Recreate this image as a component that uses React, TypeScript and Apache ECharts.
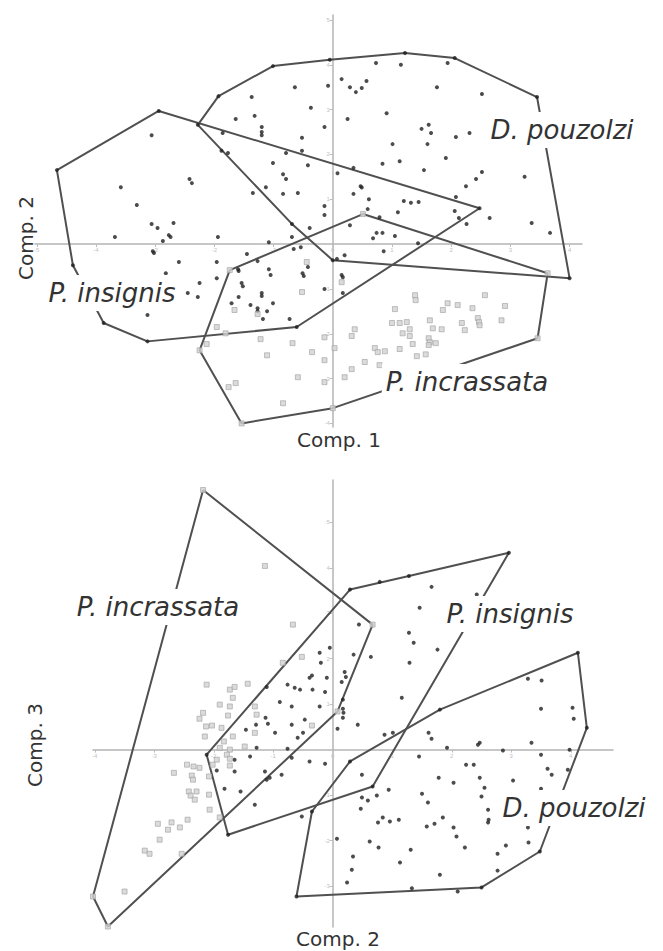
import React, { useEffect, useRef } from "react";
import * as echarts from "echarts";

type P = [number, number];

// ---------- tick values ----------
const topTicksX = [-5, -4, -3, -2, -1, 0, 1, 2, 3, 4];
const topTicksY = [-4, -3, -2, -1, 1, 2, 3, 4, 5];
const botTicksX = [-4, -3, -2, -1, 0, 1, 2, 3, 4];
const botTicksY = [-3, -2, -1, 1, 2, 3, 4, 5];

const speciesNames = ["D. pouzolzi", "P. insignis", "P. incrassata"];
const axisNames = ["Comp. 1", "Comp. 2", "Comp. 3"];

// ---------- top panel: Comp. 1 (x) vs Comp. 2 (y) ----------
const topHullDpouzolzi: P[] = [
  [-2.28, 2.66], [-1.93, 3.3], [-1.01, 3.97], [-0.05, 4.11], [1.22, 4.26], [2.06, 4.15],
  [3.45, 3.28], [4.0, -0.76], [0.0, -0.36], [-0.69, 0.45],
];
const topHullPinsignis: P[] = [
  [-4.66, 1.65], [-2.94, 2.97], [2.48, 0.8], [-0.61, -1.85], [-3.13, -2.17], [-3.87, -1.76], [-4.39, -0.47],
];
const topHullPincrassata: P[] = [
  [-1.74, -0.58], [0.51, 0.67], [3.63, -0.65], [3.46, -2.1], [0.0, -3.66], [-1.54, -4.0], [-2.25, -2.37],
];

const topDpouzolzi: P[] = [
  [-0.64, 3.5], [-0.08, 3.53], [-1.37, 3.28], [-0.37, 3.04], [-1.64, 2.79], [-1.32, 2.86], [-1.2, 2.61],
  [-1.2, 2.5], [-1.2, 2.43], [-0.14, 2.61], [-0.52, 2.37], [-1.86, 2.48], [-1.77, 2.03], [-0.79, 2.03],
  [-0.52, 2.08], [-1.01, 1.81], [-0.42, 1.76], [-0.84, 1.56], [-0.79, 1.45], [-1.13, 1.27], [-0.84, 1.12],
  [-0.59, 1.14], [-0.14, 0.85], [-0.14, 0.65], [-0.39, 0.36],
  [0.73, 4.04], [1.15, 4.0], [1.94, 4.04], [0.15, 3.68], [0.29, 3.5], [0.39, 3.39], [0.49, 3.48],
  [0.57, 3.64], [1.76, 3.5], [2.52, 3.35], [0.25, 2.79], [0.91, 2.92], [1.5, 2.57], [1.62, 2.66],
  [1.66, 2.48], [2.08, 2.39], [2.31, 2.48], [1.01, 2.23], [1.6, 2.23], [1.91, 1.92], [0.84, 1.79],
  [1.13, 1.85], [1.54, 1.65], [0.08, 1.58], [0.35, 1.7], [2.52, 1.61], [2.42, 1.45], [2.25, 1.29],
  [3.24, 1.5], [0.47, 1.29], [0.49, 1.26], [0.35, 1.12], [0.61, 1.0], [1.2, 0.96], [1.32, 0.92],
  [1.45, 0.94], [2.08, 1.05], [0.59, 0.78], [1.1, 0.71], [0.79, 0.6], [2.06, 0.74], [2.13, 0.58],
  [2.26, 0.45], [2.65, 0.58], [3.36, 0.47], [0.29, 0.42],
  [3.67, 0.25], [0.68, 0.13], [0.74, 0.25], [0.84, 0.25], [1.05, 0.18], [1.44, 0.02], [0.86, -0.16],
  [0.2, -0.25], [0.07, -0.33],
];
const topPinsignis: P[] = [
  [-3.06, 2.43], [-1.88, 2.08], [-2.42, 1.45], [-2.38, 1.36], [-3.58, 1.27], [-1.35, 1.14], [-3.31, 0.87],
  [-3.06, 0.45], [-2.96, 0.36], [-2.69, 0.47], [0.15, -0.69], [0.17, -0.74], [0.17, -1.09],
  [-2.77, 0.2], [-2.74, 0.16], [-2.87, 0.07], [-3.68, 0.16], [-1.94, 0.16], [-1.08, 0.04], [-0.69, 0.16],
  [-0.66, -0.11], [-0.54, -0.07], [-3.04, -0.16], [-3.02, -0.2], [-1.45, -0.22], [-1.27, -0.38],
  [-2.6, -0.4], [-1.96, -0.4], [-1.6, -0.56], [-1.59, -0.6], [-1.08, -0.56], [-1.05, -0.69],
  [-0.42, -0.51], [-0.51, -0.65], [-0.49, -0.71], [-2.82, -0.65], [-1.96, -0.76], [-2.25, -0.87],
  [-2.45, -1.09], [-2.28, -1.18], [-1.54, -0.87], [-1.52, -0.94], [-1.2, -1.09], [-1.2, -1.16],
  [-1.59, -1.18], [-1.71, -1.32], [-1.39, -1.36], [-1.27, -1.43], [-1.27, -1.5], [-1.11, -1.5],
  [-1.01, -1.32], [-1.18, -1.67], [-0.73, -1.67], [-0.14, -1.0], [-3.13, -1.58],
];
const topPincrassata: P[] = [
  [-0.44, -0.4], [-1.66, -1.47], [-1.27, -1.56], [-0.52, -1.07], [-1.96, -1.85], [-1.81, -1.99],
  [-2.13, -2.23], [-1.22, -2.12], [-0.68, -2.21], [-0.14, -2.08], [-1.11, -2.48], [-0.35, -2.41],
  [-0.14, -2.59], [-0.59, -2.97], [-0.14, -3.08], [-1.76, -3.19], [-1.64, -3.1], [-0.84, -3.55],
  [0.15, -0.85], [1.39, -1.14], [1.4, -1.25], [2.57, -1.14], [1.94, -1.32], [2.11, -1.36], [1.86, -1.47],
  [2.36, -1.43], [2.91, -1.38], [1.05, -1.45], [2.45, -1.65], [2.47, -1.74], [2.48, -1.81], [2.85, -1.7],
  [1.64, -1.7], [1.0, -1.76], [1.13, -1.76], [1.25, -1.74], [2.18, -1.76], [1.69, -1.88], [1.84, -1.9],
  [1.3, -1.9], [1.18, -1.99], [1.3, -2.05], [2.23, -1.92], [0.37, -1.9], [0.32, -2.05], [1.62, -2.1],
  [1.64, -2.19], [1.62, -2.25], [1.74, -2.21], [1.35, -2.23], [0.03, -2.32], [0.71, -2.32], [0.76, -2.41],
  [0.88, -2.39], [1.13, -2.34], [1.57, -2.46], [1.42, -2.5], [0.54, -2.63], [0.79, -2.7], [0.32, -2.79],
  [0.2, -2.97],
];

// ---------- bottom panel: Comp. 2 (x) vs Comp. 3 (y) ----------
const botHullPincrassata: P[] = [
  [-2.18, 5.71], [0.67, 2.75], [0.08, 0.84], [-3.78, -3.89], [-4.03, -3.23],
];
const botHullPinsignis: P[] = [
  [-2.12, -0.11], [-1.76, -1.87], [0.67, -0.81], [2.96, 4.33], [1.28, 3.82], [0.29, 3.52],
];
const botHullDpouzolzi: P[] = [
  [-0.61, -3.23], [-0.35, -1.36], [0.29, -0.26], [1.8, 0.88], [4.12, 2.13], [4.27, 0.48], [3.48, -2.24], [2.5, -3.03],
];

const botPinsignis: P[] = [
  [-0.22, 2.13], [-0.2, 1.91], [-0.39, 1.58], [-0.35, 1.63], [-0.76, 1.43], [-0.64, 1.36], [-0.55, 1.32],
  [-0.34, 1.32], [-0.13, 1.27], [-1.11, 1.38], [-0.89, 1.05], [-0.69, 0.95], [-0.22, 0.95], [-1.13, 0.7],
  [-1.09, 0.57], [-1.29, 0.55], [-1.46, 0.44], [-0.69, 0.55], [-0.47, 0.66], [-0.5, 0.37], [-0.59, 0.26],
  [-0.97, 0.37], [-1.28, 0.04], [-0.76, 0.02], [-1.39, -0.15], [-1.65, -0.22], [-0.69, -0.18], [-0.39, -0.26],
  [-0.13, -0.31], [-1.95, -0.46], [-1.65, -0.48], [-1.14, -0.48], [-1.11, -0.66], [-1.06, -0.62],
  [-0.86, -0.55], [-1.82, -0.86], [-1.55, -0.92], [-1.31, -1.21], [-0.52, -1.47], [-0.05, 2.24],
  [0.35, 2.09], [-0.1, 1.58], [0.2, 1.71], [0.22, 1.6], [0.15, 1.49], [0.17, 0.9], [0.18, 0.81], [0.17, 0.7],
  [0.08, 0.46], [0.42, 0.55], [2.42, 3.41], [1.66, 3.58], [1.46, 3.12], [1.28, 2.57], [1.36, 2.35],
  [1.76, 2.2], [1.29, 1.91], [1.16, 1.14], [0.44, 2.75], [0.64, 2.04], [0.17, 1.1], [0.87, 0.33],
  [1.01, 0.37], [0.49, -0.55], [0.79, 3.69],
];
const botDpouzolzi: P[] = [
  [3.28, 1.56], [3.51, 1.52], [3.5, 0.9], [4.03, 0.92], [4.05, 0.68], [1.61, 0.37], [1.66, 0.24],
  [2.44, 0.11], [2.47, 0.15], [3.34, 0.15], [1.92, 0.04], [2.86, -0.02], [3.98, 0.0], [3.5, -0.11],
  [1.45, -0.15], [2.24, -0.33], [2.37, -0.33], [3.61, -0.42], [3.68, -0.55], [3.95, -0.44], [1.78, -0.62],
  [2.47, -0.62], [3.03, -0.68], [2.03, -0.73], [2.55, -0.84], [3.5, -0.86], [0.94, -0.88], [0.74, -1.01],
  [0.49, -1.05], [0.59, -1.12], [1.5, -0.97], [2.5, -1.03], [1.6, -1.16], [0.47, -1.3], [2.61, -1.32],
  [2.62, -1.54], [2.61, -1.6], [0.84, -1.49], [0.76, -1.6], [0.96, -1.58], [1.11, -1.54], [1.85, -1.49],
  [1.58, -1.69], [1.71, -1.63], [2.03, -1.71], [2.08, -1.91], [3.28, -1.71], [0.62, -2.02], [0.77, -2.15],
  [1.31, -2.2], [2.22, -2.15], [2.91, -2.11], [3.29, -2.04], [2.77, -2.29], [0.07, -1.96], [0.34, -2.35],
  [1.13, -2.48], [2.77, -2.66], [0.32, -2.64], [0.24, -2.92], [1.8, -2.75], [1.33, -3.05], [2.1, -3.12],
];
const botPincrassata: P[] = [
  [-1.14, 4.04], [-0.67, 2.75], [-0.52, 2.04], [-0.84, 1.91], [-2.12, 1.43], [-1.73, 1.32], [-1.65, 1.38],
  [-1.43, 1.45], [-1.68, 1.14], [-1.9, 0.99], [-1.73, 0.95], [-2.18, 0.81], [-2.24, 0.68], [-1.76, 0.75],
  [-1.31, 0.95], [-1.28, 0.77], [-1.31, 0.37], [-0.35, 0.53], [-2.13, 0.51], [-2.03, 0.53], [-1.87, 0.48],
  [-1.68, 0.29], [-2.15, 0.29], [-1.83, 0.18], [-1.9, 0.04], [-1.48, 0.07], [-1.73, 0.0], [-1.78, -0.11],
  [-1.73, -0.2], [-1.95, -0.22], [-2.02, -0.33], [-1.73, -0.35], [-2.34, -0.37], [-2.24, -0.4],
  [-2.45, -0.33], [-2.67, -0.51], [-2.37, -0.57], [-2.35, -0.66], [-2.08, -0.59], [-2.42, -0.92],
  [-2.29, -0.92], [-2.39, -1.01], [-2.32, -1.1], [-2.08, -0.99], [-2.07, -1.32], [-1.9, -1.49],
  [-2.44, -1.54], [-2.71, -1.6], [-2.77, -1.76], [-2.57, -1.71], [-2.94, -1.63], [-2.91, -1.98],
  [-3.16, -2.22], [-3.08, -2.29], [-2.54, -2.29], [-3.5, -3.12],
];

// ---------- layout ----------
const gridTop = { left: 35, top: 15, width: 547, height: 412 };
const gridBot = { left: 93, top: 480, width: 520, height: 447 };
const extTop = { xMin: -5.03, xMax: 4.21, yMin: -4.08, yMax: 5.11 };
const extBot = { xMin: -4.03, xMax: 4.71, yMin: -3.9, yMax: 5.93 };

export default function App() {
  const ref = useRef<HTMLDivElement>(null);

  useEffect(() => {
    if (!ref.current) return;
    const chart = echarts.init(ref.current, null, { renderer: "svg" });

    const axisBase = (ticks: number[]) => ({
      axisLine: { show: true, onZero: false, lineStyle: { color: "#b4b4b4", width: 1.5 } },
      axisTick: { show: true, length: 3, customValues: ticks, lineStyle: { color: "#bdbdbd", width: 1 } },
      axisLabel: {
        customValues: ticks,
        fontSize: 6,
        color: "#c2c2c2",
        margin: 3,
        fontFamily: "Liberation Sans",
      },
      splitLine: { show: false },
    });
    // x axis placed on the y = 0 line of its grid
    const xAxisAt = (gi: number, g: any, e: any, ticks: number[]) => {
      const zeroFromBottom = ((0 - e.yMin) / (e.yMax - e.yMin)) * g.height;
      return {
        type: "value",
        gridIndex: gi,
        min: e.xMin,
        max: e.xMax,
        position: "bottom",
        offset: -zeroFromBottom,
        ...axisBase(ticks),
      };
    };
    // y axis placed on the x = 0 line of its grid
    const yAxisAt = (gi: number, g: any, e: any, ticks: number[]) => {
      const zeroFromLeft = ((0 - e.xMin) / (e.xMax - e.xMin)) * g.width;
      return {
        type: "value",
        gridIndex: gi,
        min: e.yMin,
        max: e.yMax,
        position: "left",
        offset: -zeroFromLeft,
        ...axisBase(ticks),
      };
    };

    const black = (name: string, xi: number, data: P[]) => ({
      type: "scatter",
      name,
      xAxisIndex: xi,
      yAxisIndex: xi,
      data,
      symbol: "circle",
      symbolSize: 4,
      itemStyle: { color: "#1f1f1f" },
      z: 4,
      silent: true,
    });
    const gray = (name: string, xi: number, data: P[]) => ({
      type: "scatter",
      name,
      xAxisIndex: xi,
      yAxisIndex: xi,
      data,
      symbol: "rect",
      symbolSize: 5,
      itemStyle: { color: "#d2d2d2", borderColor: "#a0a0a0", borderWidth: 0.8 },
      z: 4,
      silent: true,
    });
    const hull = (name: string, xi: number, pts: P[]) => ({
      type: "line",
      name: name + " hull",
      xAxisIndex: xi,
      yAxisIndex: xi,
      data: [...pts, pts[0]],
      symbol: "none",
      lineStyle: { color: "#505050", width: 2 },
      z: 3,
      silent: true,
    });

    const speciesLabel = (text: string, x: number, y: number) => ({
      type: "text",
      x,
      y,
      z: 100,
      style: {
        text,
        fontFamily: "DejaVu Sans",
        fontStyle: "italic",
        fontSize: 26,
        fill: "#333333",
        align: "center",
        verticalAlign: "middle",
        backgroundColor: "#ffffff",
        padding: [5, 4],
      },
    });
    const axisLabel = (text: string, x: number, y: number, rotation = 0) => ({
      type: "text",
      x,
      y,
      rotation,
      z: 100,
      style: {
        text,
        fontFamily: "DejaVu Sans",
        fontSize: 20,
        fill: "#333333",
        align: "center",
        verticalAlign: "middle",
      },
    });

    const option = {
      animation: false,
      backgroundColor: "#ffffff",
      grid: [gridTop, gridBot],
      xAxis: [xAxisAt(0, gridTop, extTop, topTicksX), xAxisAt(1, gridBot, extBot, botTicksX)],
      yAxis: [yAxisAt(0, gridTop, extTop, topTicksY), yAxisAt(1, gridBot, extBot, botTicksY)],
      series: [
        hull(speciesNames[0], 0, topHullDpouzolzi),
        hull(speciesNames[1], 0, topHullPinsignis),
        hull(speciesNames[2], 0, topHullPincrassata),
        black(speciesNames[0], 0, [...topDpouzolzi, ...topHullDpouzolzi]),
        black(speciesNames[1], 0, [...topPinsignis, ...topHullPinsignis]),
        gray(speciesNames[2], 0, [...topPincrassata, ...topHullPincrassata]),
        hull(speciesNames[0], 1, botHullDpouzolzi),
        hull(speciesNames[1], 1, botHullPinsignis),
        hull(speciesNames[2], 1, botHullPincrassata),
        black(speciesNames[0], 1, [...botDpouzolzi, ...botHullDpouzolzi]),
        black(speciesNames[1], 1, [...botPinsignis, ...botHullPinsignis]),
        gray(speciesNames[2], 1, [...botPincrassata, ...botHullPincrassata]),
      ],
      graphic: [
        speciesLabel(speciesNames[0], 562, 130),
        speciesLabel(speciesNames[1], 112, 293),
        speciesLabel(speciesNames[2], 467, 382),
        speciesLabel(speciesNames[2], 158, 607),
        speciesLabel(speciesNames[1], 510, 614),
        speciesLabel(speciesNames[0], 574, 808),
        axisLabel(axisNames[0], 339, 440),
        axisLabel(axisNames[1], 26, 238, Math.PI / 2),
        axisLabel(axisNames[2], 35, 745, Math.PI / 2),
        axisLabel(axisNames[1], 338, 939),
      ],
    };

    chart.setOption(option as any);
    return () => chart.dispose();
  }, []);

  return (
    <div
      ref={ref}
      style={{ position: "absolute", left: 0, top: 0, width: 663, height: 951, background: "#ffffff" }}
    />
  );
}
